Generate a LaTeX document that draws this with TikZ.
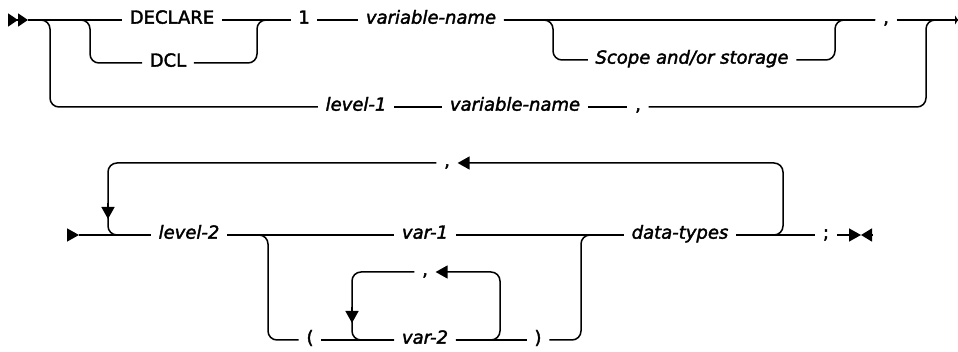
\documentclass[tikz,border=0pt]{standalone}
\usepackage{fontspec}
\setmainfont{DejaVu Sans}[FakeBold=2]
\usetikzlibrary{arrows.meta}

\begin{document}
\begin{tikzpicture}[x=1pt, y=-1pt, line width=1.5pt, rounded corners=9pt,
    font=\fontsize{18}{20}\selectfont,
    kw/.style={inner xsep=7pt, inner ysep=0pt, text height=0.73em, text depth=0pt},
    vn/.style={kw, font=\fontsize{18}{20}\selectfont\itshape},
    tip/.style={-{Triangle[length=12pt,width=13pt]}},
    backtip/.style={{Triangle[length=12pt,width=13pt]}-}]
  \useasboundingbox (0,0) rectangle (958,352);
  % first part
  \node[kw] (declare) at (172,20) {DECLARE};
  \node[kw] (dcl) at (168,63) {DCL};
  \node[kw] (one) at (304,20) {1};
  \node[vn] (varname) at (431,20) {variable-name};
  \node[vn] (scope) at (692,60) {Scope and/or storage};
  \node[kw] (comma1) at (886,20) {,};
  \node[vn] (level1) at (356,107) {level-1};
  \node[vn] (varname2) at (515,107) {variable-name};
  \node[kw] (comma2) at (638,107) {,};
  \coordinate (start1) at (28,20);
  \coordinate (end1) at (958,20);
  \draw[sharp corners, -{Triangle[length=10pt,width=13pt] Triangle[length=10pt,width=13pt]}] (8,20) -- (start1);
  \draw (start1) -- (declare.west);
  \draw (start1) -- (50,20) |- (level1.west);
  \draw (start1) -- (90,20) |- (dcl.west);
  \draw (dcl.east) -| (257,20) -- (one.west);
  \draw (declare.east) -- (one.west);
  \draw (one.east) -- (varname.west);
  \draw (varname.east) -- (comma1.west);
  \draw (varname.east) -- (553,20) |- (scope.west);
  \draw (scope.east) -| (835,20) -- (comma1.west);
  \draw[sharp corners, -{Triangle[length=3pt,width=9pt]}] (comma1.east) -- (end1);
  \draw (level1.east) -- (varname2.west);
  \draw (varname2.east) -- (comma2.west);
  \draw (comma2.east) -| (926,20) -- (end1);
  % second part
  \node[vn] (level2) at (189,235) {level-2};
  \node[vn] (var1) at (425,235) {var-1};
  \node[vn] (datatypes) at (680,235) {data-types};
  \node[kw] (semi) at (826,235) {;};
  \node[kw] (comma3) at (447,163) {,};
  \node[kw] (lparen) at (310,340) {(};
  \node[vn] (var2) at (425,340) {var-2};
  \node[kw] (rparen) at (538,340) {)};
  \node[kw] (comma4) at (425,272) {,};
  \coordinate (start2) at (79,235);
  \draw[sharp corners, tip] (67,235) -- (start2);
  \draw (start2) -- (level2.west);
  \draw (comma3.west) -| (108,235) -- (level2.west);
  \draw[sharp corners, tip] (108,203) -- (108,219);
  \draw (level2.east) -- (var1.west);
  \draw (level2.east) -- (268,235) |- (lparen.west);
  \draw (var1.east) -- (datatypes.west);
  \draw (rparen.east) -| (581,235) -- (datatypes.west);
  \draw (datatypes.east) -- (semi.west);
  \draw[backtip] (comma3.east) -| (783,235) -- (datatypes.east);
  \draw (lparen.east) -- (var2.west);
  \draw (comma4.west) -| (352,340) -- (var2.west);
  \draw[sharp corners, tip] (352,307) -- (352,323);
  \draw (var2.east) -- (rparen.west);
  \draw[backtip] (comma4.east) -| (500,340) -- (var2.east);
  % end mark
  \draw[sharp corners, -{Triangle[length=12pt,width=13pt]}] (semi.east) -- (861,235);
  \draw[sharp corners, -{Triangle[length=11pt,width=13pt]}] (872,235) -- (861,235);
\end{tikzpicture}
\end{document}
